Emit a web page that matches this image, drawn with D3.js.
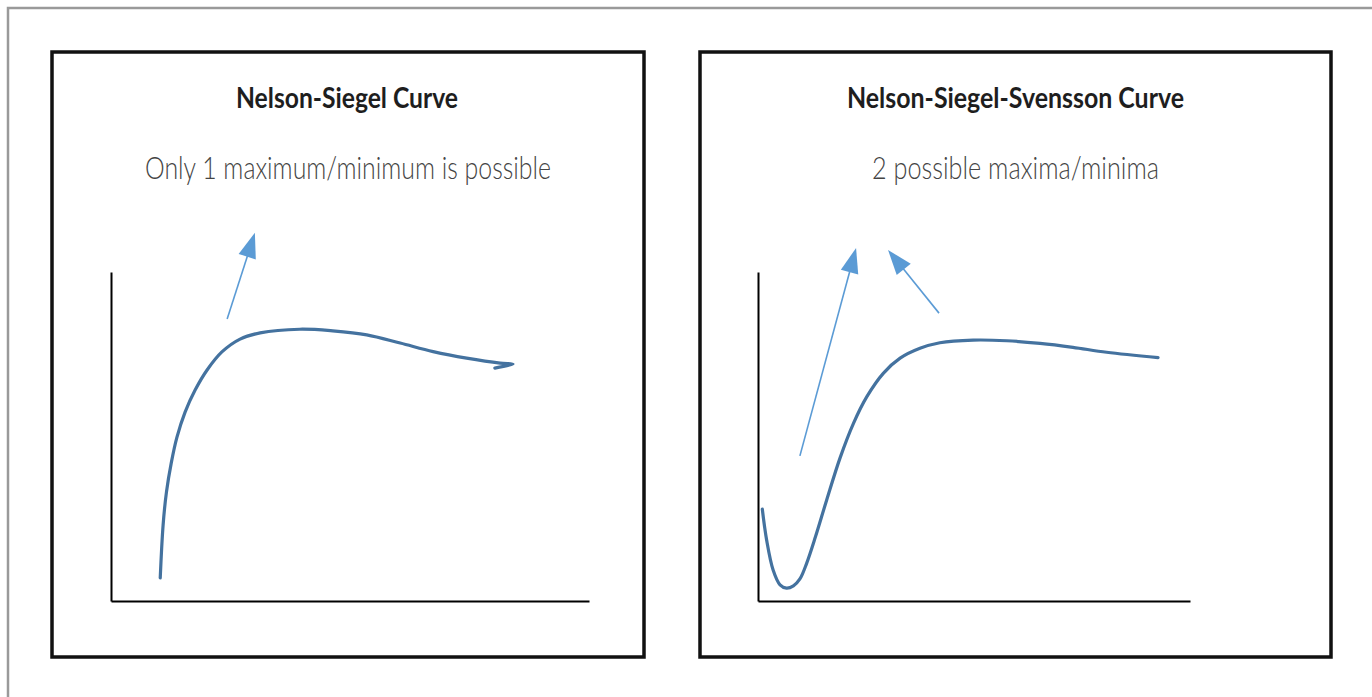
<!DOCTYPE html>
<html>
<head>
<meta charset="utf-8">
<script src="https://cdn.jsdelivr.net/npm/d3@7"></script>
<style>
  html, body { margin: 0; padding: 0; background: #fff; }
  svg { display: block; }
</style>
</head>
<body>
<svg id="chart" width="1372" height="697"></svg>
<script>
// ---------------- DATA ----------------
const panelTitles = ["Nelson-Siegel Curve", "Nelson-Siegel-Svensson Curve"];
const panelSubtitles = ["Only 1 maximum/minimum is possible", "2 possible maxima/minima"];

// Nelson-Siegel curve (maturity, yield) in abstract units 0..10
const nsMaturity = [1.03, 1.09, 1.16, 1.26, 1.38, 1.55, 1.76, 2.01, 2.32, 2.70, 3.12, 3.95, 4.64, 5.35, 6.05, 6.74, 7.44, 8.14, 8.41, 8.03];
const nsYield    = [0.70, 2.31, 3.31, 4.19, 4.98, 5.74, 6.41, 7.02, 7.57, 7.96, 8.15, 8.26, 8.21, 8.09, 7.84, 7.58, 7.38, 7.23, 7.20, 7.08];

// Nelson-Siegel-Svensson curve
const nssMaturity = [0.10, 0.20, 0.35, 0.51, 0.66, 0.82, 0.97, 1.13, 1.33, 1.59, 1.90, 2.21, 2.52, 2.90, 3.29, 3.75, 4.21, 4.98, 5.76, 6.53, 7.29, 8.07, 9.26];
const nssYield    = [2.79, 1.85, 0.94, 0.49, 0.39, 0.46, 0.67, 1.16, 1.95, 3.07, 4.35, 5.40, 6.21, 6.92, 7.38, 7.68, 7.85, 7.93, 7.91, 7.83, 7.71, 7.56, 7.40];

// Annotation arrows: [startX, startY, tipX, tipY] in data units
const nsArrows  = [[2.43, 8.57, 3.01, 11.19]];
const nssArrows = [[0.97, 4.41, 2.27, 10.73], [4.19, 8.75, 3.01, 10.67]];

// ---------------- LAYOUT ----------------
const svg = d3.select("#chart");
const curveColor = "#44729f";
const arrowColor = "#5b9bd5";

// outer gray frame (only top/left visible)
svg.append("path")
  .attr("d", "M8,697 L8,8 L1372,8")
  .attr("fill", "none").attr("stroke", "#9a9a9a").attr("stroke-width", 2.5);

const panels = [
  { box: [52, 52, 644, 657], axisX: [111, 589], axisY: [601, 272],
    title: { x: 236, w: 222 }, sub: { x: 145, w: 406 },
    mat: nsMaturity, yld: nsYield, arrows: nsArrows, xMax: 10 },
  { box: [700, 52, 1331, 657], axisX: [758, 1190], axisY: [601, 272],
    title: { x: 847, w: 337 }, sub: { x: 872, w: 287 },
    mat: nssMaturity, yld: nssYield, arrows: nssArrows, xMax: 10 }
];

panels.forEach((p, i) => {
  const g = svg.append("g");
  const [x0, y0, x1, y1] = p.box;
  g.append("rect")
    .attr("x", x0).attr("y", y0)
    .attr("width", x1 - x0).attr("height", y1 - y0)
    .attr("fill", "#fff").attr("stroke", "#111").attr("stroke-width", 3.5);

  g.append("text")
    .attr("x", p.title.x).attr("y", 108)
    .attr("font-family", "Lato, 'Open Sans', sans-serif")
    .attr("font-weight", 700).attr("font-size", 28.5)
    .attr("fill", "#1e1e1e")
    .attr("textLength", p.title.w).attr("lengthAdjust", "spacingAndGlyphs")
    .text(panelTitles[i]);

  g.append("text")
    .attr("x", p.sub.x).attr("y", 179)
    .attr("font-family", "Lato, 'Open Sans', sans-serif")
    .attr("font-weight", 300).attr("font-size", 32)
    .attr("fill", "#444")
    .attr("textLength", p.sub.w).attr("lengthAdjust", "spacingAndGlyphs")
    .text(panelSubtitles[i]);

  const x = d3.scaleLinear().domain([0, p.xMax]).range(p.axisX);
  const y = d3.scaleLinear().domain([0, 10]).range(p.axisY);

  // axes: bare lines, no ticks
  const xAxis = d3.axisBottom(x).tickValues([]).tickSizeOuter(0);
  const yAxis = d3.axisLeft(y).tickValues([]).tickSizeOuter(0);
  const ax = g.append("g").attr("transform", `translate(0,${y(0)})`).call(xAxis);
  const ay = g.append("g").attr("transform", `translate(${x(0)},0)`).call(yAxis);
  [ax, ay].forEach(a => a.select(".domain").attr("stroke", "#000").attr("stroke-width", 2));

  // curve
  const pts = p.mat.map((m, k) => [m, p.yld[k]]);
  const line = d3.line().x(d => x(d[0])).y(d => y(d[1])).curve(d3.curveCatmullRom.alpha(0.5));
  g.append("path").datum(pts)
    .attr("d", line)
    .attr("fill", "none").attr("stroke", curveColor)
    .attr("stroke-width", 3.2).attr("stroke-linecap", "round").attr("stroke-linejoin", "round");

  // arrows
  p.arrows.forEach(a => {
    const sx = x(a[0]), sy = y(a[1]), tx = x(a[2]), ty = y(a[3]);
    const dx = tx - sx, dy = ty - sy, len = Math.hypot(dx, dy);
    const ux = dx / len, uy = dy / len;
    const headL = 25, headW = 9;
    const bx = tx - ux * headL, by = ty - uy * headL;
    g.append("line")
      .attr("x1", sx).attr("y1", sy).attr("x2", bx + ux * 2).attr("y2", by + uy * 2)
      .attr("stroke", arrowColor).attr("stroke-width", 1.6);
    g.append("path")
      .attr("d", `M${tx},${ty} L${bx - uy * headW},${by + ux * headW} L${bx + uy * headW},${by - ux * headW} Z`)
      .attr("fill", arrowColor);
  });
});
</script>
</body>
</html>
